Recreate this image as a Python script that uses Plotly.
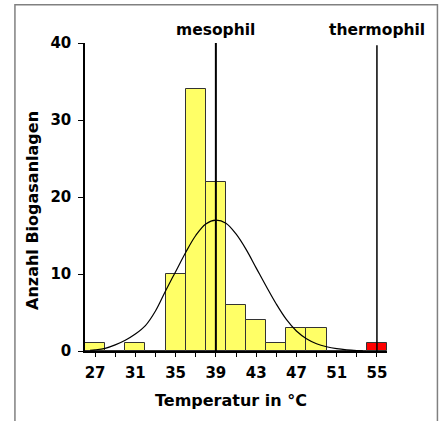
import plotly.graph_objects as go

# Histogram data (bin centres in °C, count of plants)
bin_centers = [27, 29, 31, 33, 35, 37, 39, 41, 43, 45, 47, 49, 51, 53, 55]
counts      = [1, 0, 1, 0, 10, 34, 22, 6, 4, 1, 3, 3, 0, 0, 1]
bar_colors  = ["#FFFF66"] * 14 + ["#FF0000"]

# Fitted distribution curve
curve_x = [26.5, 27, 28, 29, 30, 31, 32, 33, 34, 35, 36, 37, 38, 39, 40,
           41, 42, 43, 44, 45, 46, 47, 48, 49, 50, 51, 52, 53, 53.6]
curve_y = [0.1, 0.15, 0.35, 0.8, 1.4, 2.2, 3.3, 5.2, 7.8, 10.3, 12.8, 15.0, 16.5, 17.0, 16.6,
           15.2, 13.2, 10.8, 8.4, 6.1, 4.1, 2.6, 1.6, 0.95, 0.55, 0.3, 0.15, 0.06, 0.03]

# Reference temperatures
ref_labels = ["mesophil", "thermophil"]
ref_x      = [39, 55]
ref_top    = [40, 39.7]
ref_width  = [2, 1.5]

x_labels = [27, 31, 35, 39, 43, 47, 51, 55]
x_minor  = [29, 33, 37, 41, 45, 49, 53]
y_ticks  = [0, 10, 20, 30, 40]

FONT = "DejaVu Sans, Liberation Sans, Arial, sans-serif"

fig = go.Figure()
fig.add_trace(go.Bar(
    x=bin_centers, y=counts, width=2,
    marker=dict(color=bar_colors, line=dict(color="#333333", width=1)),
    showlegend=False, hoverinfo="x+y",
))
fig.add_trace(go.Scatter(
    x=curve_x, y=curve_y, mode="lines", line=dict(color="black", width=1.2, shape="spline"),
    showlegend=False,
))
for lbl, xv, top, w in zip(ref_labels, ref_x, ref_top, ref_width):
    fig.add_trace(go.Scatter(
        x=[xv, xv], y=[0, top], mode="lines", line=dict(color="black", width=w),
        showlegend=False, hoverinfo="skip",
    ))
    fig.add_annotation(
        x=xv, xref="x", y=1.041, yref="paper", text="<b>%s</b>" % lbl,
        showarrow=False, xanchor="center", yanchor="middle",
        font=dict(family=FONT, size=15.5, color="black"),
    )

# Axis titles as annotations
fig.add_annotation(
    x=-0.172, xref="paper", y=0.455, yref="paper", text="<b>Anzahl Biogasanlagen</b>",
    showarrow=False, textangle=-90, xanchor="center", yanchor="middle",
    font=dict(family=FONT, size=16, color="black"),
)
fig.add_annotation(
    x=0.485, xref="paper", y=-0.162, yref="paper", text="<b>Temperatur in °C</b>",
    showarrow=False, xanchor="center", yanchor="middle",
    font=dict(family=FONT, size=16, color="black"),
)

# Outer frame
fig.add_shape(type="rect", xref="paper", yref="paper",
              x0=-0.232, x1=1.167, y0=-0.3, y1=1.124,
              line=dict(color="#808080", width=1.5), layer="below")

fig.update_layout(
    width=439, height=421,
    margin=dict(l=85, r=52, t=43, b=70),
    plot_bgcolor="white", paper_bgcolor="white",
    bargap=0,
    font=dict(family=FONT, size=15, color="black"),
    xaxis=dict(
        range=[26, 56], tickvals=x_labels,
        ticktext=["<b>%d</b>" % v for v in x_labels],
        ticks="outside", ticklen=4, tickwidth=1, tickcolor="black",
        minor=dict(tickvals=x_minor, ticks="outside", ticklen=4, tickwidth=1, tickcolor="black"),
        showline=True, linecolor="black", linewidth=1.5,
        showgrid=False, zeroline=False, ticklabelstandoff=3,
        tickfont=dict(family=FONT, size=15, color="black"),
    ),
    yaxis=dict(
        range=[0, 40], tickvals=y_ticks,
        ticktext=["<b>%d</b>" % v for v in y_ticks],
        ticks="outside", ticklen=5, tickwidth=1, tickcolor="black",
        showline=True, linecolor="black", linewidth=1.5,
        showgrid=False, zeroline=False, ticklabelstandoff=4,
        tickfont=dict(family=FONT, size=15, color="black"),
    ),
)

fig.write_html("out.html")
